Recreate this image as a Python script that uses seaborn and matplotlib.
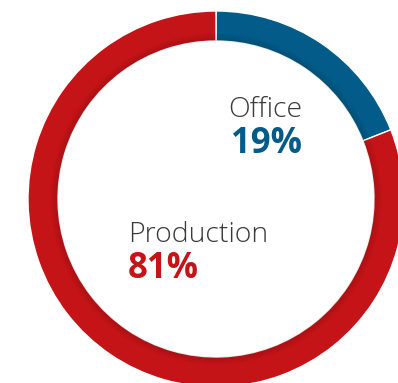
import numpy as np
import matplotlib
matplotlib.use("Agg")
import matplotlib.pyplot as plt
from matplotlib.patches import Wedge
import seaborn as sns

labels = ["Office", "Production"]
shares = [19, 81]
colors = ["#025b88", "#c41418"]

sns.set_theme(style="white")
plt.rcParams['font.family'] = ['Open Sans', 'DejaVu Sans']

fig = plt.figure(figsize=(3.98, 3.83), dpi=100)
# ring centre at (216, 199) px, outer radius 188 px
ax = fig.add_axes([28 / 398, -4 / 383, 376 / 398, 376 / 383])

width = 30 / 188
ax.pie(shares, colors=colors, startangle=90, counterclock=False, radius=1,
       wedgeprops=dict(width=width, edgecolor="white", linewidth=1))
# pie() resets the limits, so set them afterwards
ax.set_xlim(-1, 1)
ax.set_ylim(-1, 1)
ax.set_aspect("equal")
ax.axis("off")

# soft shadow along the inner edge of the ring
inner = 1 - width
for k in range(10):
    ax.add_patch(Wedge((0, 0), inner + (k + 1) * 0.004, 0, 360, width=0.004,
                       facecolor="black", edgecolor="none", alpha=0.13 * (1 - k / 10)))

ax.text(0.457, 0.436, labels[0], ha="right", va="baseline", fontsize=20.5,
        fontweight="light", color="#3a3a3a")
ax.text(0.457, 0.245, f"{shares[0]}%", ha="right", va="baseline", fontsize=25,
        fontweight="bold", color=colors[0])
ax.text(-0.468, -0.229, labels[1], ha="left", va="baseline", fontsize=20.5,
        fontweight="light", color="#3a3a3a")
ax.text(-0.468, -0.420, f"{shares[1]}%", ha="left", va="baseline", fontsize=25,
        fontweight="bold", color=colors[1])

fig.savefig("out.png", dpi=100)
